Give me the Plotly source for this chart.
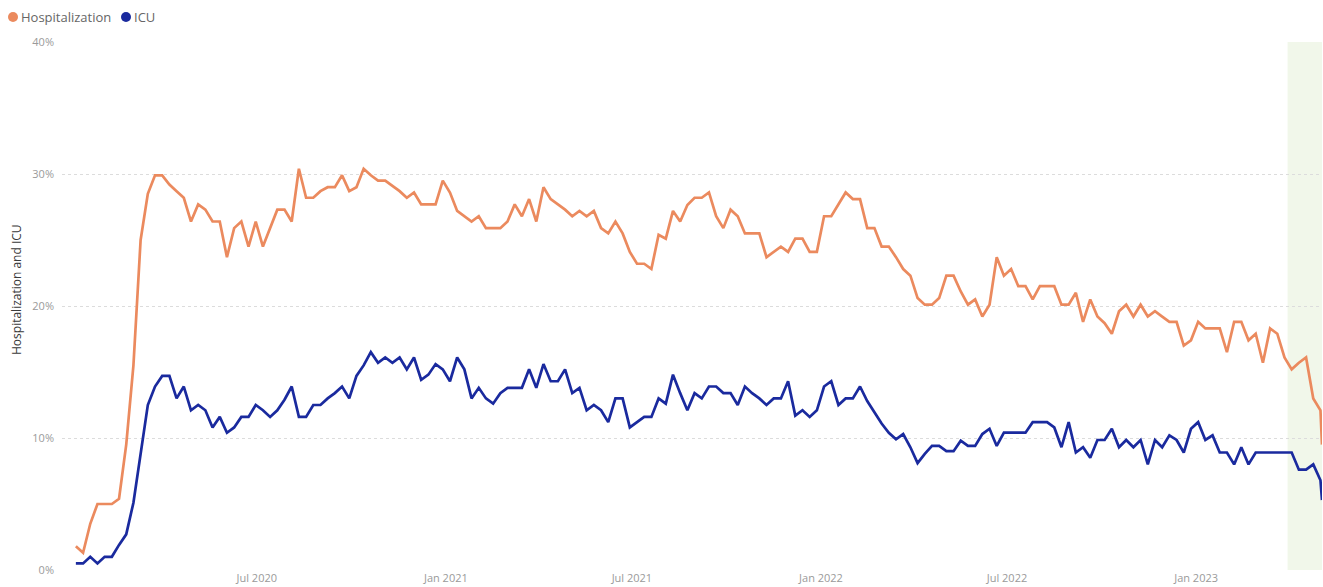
import pandas as pd
import plotly.graph_objects as go

# Weekly series starting 2020-01-07 (one extra partial point at the end)
start_date = "2020-01-07"

hospitalization = [
    1.8, 1.3, 3.5, 5.0, 5.0, 5.0, 5.4, 9.5, 15.5, 25.0,
    28.5, 29.9, 29.9, 29.2, 28.7, 28.2, 26.4, 27.7, 27.3, 26.4,
    26.4, 23.7, 25.9, 26.4, 24.5, 26.4, 24.5, 25.9, 27.3, 27.3,
    26.4, 30.4, 28.2, 28.2, 28.7, 29.0, 29.0, 29.9, 28.7, 29.0,
    30.4, 29.9, 29.5, 29.5, 29.1, 28.7, 28.2, 28.6, 27.7, 27.7,
    27.7, 29.5, 28.6, 27.2, 26.8, 26.4, 26.8, 25.9, 25.9, 25.9,
    26.4, 27.7, 26.8, 28.1, 26.4, 29.0, 28.1, 27.7, 27.3, 26.8,
    27.2, 26.8, 27.2, 25.9, 25.5, 26.4, 25.5, 24.1, 23.2, 23.2,
    22.8, 25.4, 25.1, 27.2, 26.4, 27.65, 28.2, 28.2, 28.6, 26.8,
    25.9, 27.3, 26.8, 25.5, 25.5, 25.5, 23.7, 24.1, 24.5, 24.1,
    25.1, 25.1, 24.1, 24.1, 26.8, 26.8, 27.65, 28.6, 28.1, 28.1,
    25.9, 25.9, 24.5, 24.5, 23.7, 22.8, 22.3, 20.6, 20.1, 20.1,
    20.6, 22.3, 22.3, 21.1, 20.1, 20.5, 19.2, 20.1, 23.7, 22.3,
    22.8, 21.5, 21.5, 20.5, 21.5, 21.5, 21.5, 20.1, 20.1, 21.0,
    18.8, 20.5, 19.2, 18.7, 17.9, 19.6, 20.1, 19.2, 20.1, 19.2,
    19.6, 19.2, 18.8, 18.8, 17.0, 17.4, 18.8, 18.3, 18.3, 18.3,
    16.5, 18.8, 18.8, 17.4, 17.9, 15.7, 18.3, 17.9, 16.1, 15.2,
    15.7, 16.1, 13.0, 12.1, 9.5,
]

icu = [
    0.5, 0.5, 1.0, 0.5, 1.0, 1.0, 1.9, 2.7, 5.1, 8.9,
    12.5, 13.9, 14.7, 14.7, 13.0, 13.9, 12.1, 12.5, 12.1, 10.8,
    11.6, 10.4, 10.8, 11.6, 11.6, 12.5, 12.1, 11.6, 12.1, 12.9,
    13.9, 11.6, 11.6, 12.5, 12.5, 13.0, 13.4, 13.9, 13.0, 14.7,
    15.5, 16.5, 15.7, 16.1, 15.7, 16.1, 15.2, 16.1, 14.4, 14.8,
    15.6, 15.2, 14.3, 16.1, 15.2, 13.0, 13.8, 13.0, 12.6, 13.4,
    13.8, 13.8, 13.8, 15.2, 13.8, 15.6, 14.3, 14.3, 15.2, 13.4,
    13.8, 12.1, 12.5, 12.1, 11.2, 13.0, 13.0, 10.8, 11.2, 11.6,
    11.6, 13.0, 12.6, 14.8, 13.4, 12.1, 13.4, 13.0, 13.9, 13.9,
    13.4, 13.4, 12.5, 13.9, 13.4, 13.0, 12.5, 13.0, 13.0, 14.3,
    11.7, 12.1, 11.6, 12.1, 13.9, 14.3, 12.5, 13.0, 13.0, 13.9,
    12.8, 11.9, 11.1, 10.4, 9.9, 10.3, 9.3, 8.1, 8.8, 9.4,
    9.4, 9.0, 9.0, 9.8, 9.4, 9.4, 10.3, 10.7, 9.4, 10.4,
    10.4, 10.4, 10.4, 11.2, 11.2, 11.2, 10.8, 9.3, 11.2, 8.9,
    9.3, 8.5, 9.85, 9.85, 10.7, 9.3, 9.85, 9.3, 9.85, 8.0,
    9.85, 9.3, 10.2, 9.85, 8.9, 10.7, 11.2, 9.85, 10.2, 8.9,
    8.9, 8.0, 9.3, 8.0, 8.9, 8.9, 8.9, 8.9, 8.9, 8.9,
    7.6, 7.6, 8.0, 6.8, 5.3,
]

weekly = list(pd.date_range(start_date, periods=len(icu) - 1, freq="7D"))
dates = weekly + [weekly[-1] + pd.Timedelta(days=1, hours=12)]

tick_dates = ["2020-07-01", "2021-01-01", "2021-07-01", "2022-01-01", "2022-07-01", "2023-01-01"]
tick_labels = ["Jul 2020", "Jan 2021", "Jul 2021", "Jan 2022", "Jul 2022", "Jan 2023"]
y_ticks = [0, 10, 20, 30, 40]
y_tick_labels = ["0%", "10%", "20%", "30%", "40%"]
series_names = ["Hospitalization", "ICU"]

highlight_start = "2023-03-31"
x_range = ["2019-12-24 12:00", "2023-05-03 12:00"]

ORANGE = "#EB8A5E"
NAVY = "#1A2A9E"
colors = [ORANGE, NAVY]

fig = go.Figure()
fig.add_trace(go.Scatter(x=dates, y=hospitalization, mode="lines", name=series_names[0],
                         line=dict(color=ORANGE, width=2.7)))
fig.add_trace(go.Scatter(x=dates, y=icu, mode="lines", name=series_names[1],
                         line=dict(color=NAVY, width=2.7)))

fig.add_shape(type="rect", xref="x", yref="paper", x0=highlight_start, x1=x_range[1],
              y0=0, y1=1, fillcolor="#F1F7EA", line=dict(width=0), layer="below")

# custom legend (circle + label) above the plot, in pixel-anchored positions
PLOT_L, PLOT_W, PLOT_B, PLOT_H = 62, 1260, 570, 528
def px_x(p):
    return (p - PLOT_L) / PLOT_W
def px_y(p):
    return (PLOT_B - p) / PLOT_H

legend_dot_px = [13, 126]
for name, col, dx in zip(series_names, colors, legend_dot_px):
    fig.add_shape(type="circle", xref="paper", yref="paper",
                  xsizemode="pixel", ysizemode="pixel",
                  xanchor=px_x(dx), yanchor=px_y(17), x0=-5, x1=5, y0=-5, y1=5,
                  fillcolor=col, line=dict(width=0))
    fig.add_annotation(xref="paper", yref="paper", x=px_x(dx + 6), y=px_y(17), text=name,
                       showarrow=False, xanchor="left", yanchor="middle",
                       font=dict(size=13, color="#666666"))

fig.update_layout(
    width=1323, height=587,
    margin=dict(l=62, r=1, t=42, b=17),
    paper_bgcolor="white", plot_bgcolor="white",
    font=dict(family="Open Sans, Noto Sans, sans-serif", size=11, color="#9a9a9a"),
    showlegend=False,
)
fig.update_xaxes(type="date", range=x_range, tickvals=tick_dates, ticktext=tick_labels,
                 showgrid=False, zeroline=False, showline=False, ticks="",
                 tickfont=dict(size=11, color="#9a9a9a"), automargin=False)
fig.update_yaxes(range=[0, 40], tickvals=y_ticks, ticktext=y_tick_labels, showgrid=True,
                 gridcolor="#dcdcdc", griddash="dot", gridwidth=1, zeroline=False,
                 showline=False, ticks="", ticklabelstandoff=7,
                 tickfont=dict(size=11, color="#9a9a9a"), automargin=False)
fig.add_annotation(xref="paper", yref="paper", x=px_x(16), y=px_y(290), text="Hospitalization and ICU",
                   textangle=-90, showarrow=False, font=dict(size=12, color="#3a3a3a"),
                   xanchor="center", yanchor="middle")

fig.write_html("out.html")
